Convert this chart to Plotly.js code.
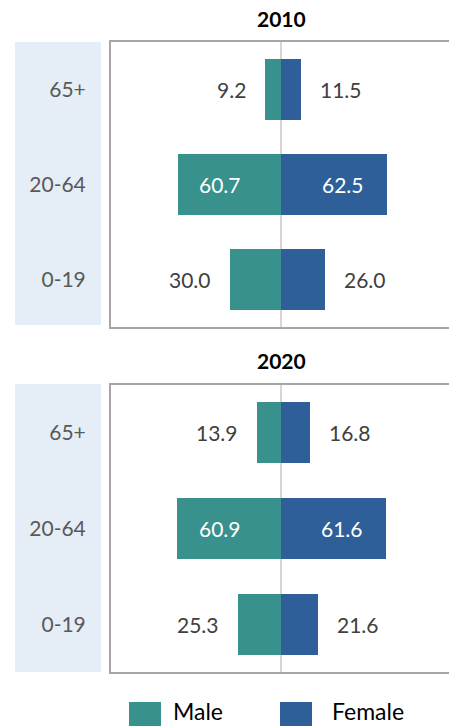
<!DOCTYPE html>
<html><head><meta charset="utf-8">
<script src="https://cdn.plot.ly/plotly-3.0.1.min.js"></script>
<style>html,body{margin:0;padding:0;overflow:hidden;background:#fff;}#chart{width:453px;height:726px;}</style>
</head><body><div id="chart"></div>
<script>
const categories = ["0-19", "20-64", "65+"];
const male2010 = [30.0, 60.7, 9.2];
const female2010 = [26.0, 62.5, 11.5];
const male2020 = [25.3, 60.9, 13.9];
const female2020 = [21.6, 61.6, 16.8];
const years = ["2010", "2020"];
const seriesNames = ["Male", "Female"];

const MALE_C = "#38918c", FEMALE_C = "#2e5f98";
const FONT = "Lato, 'Open Sans', sans-serif";
const H = 726, PL = 111, PW = 340;
const py = v => 1 - v / H;
const px = v => (v - PL) / PW;

function barTrace(vals, sign, color, name, ax) {
  return {
    type: "bar", orientation: "h", name: name,
    y: categories, x: vals.map(v => sign * v),
    marker: {color: color, line: {width: 0}},
    width: 0.64, xaxis: "x" + ax, yaxis: "y" + ax,
    hoverinfo: "skip", showlegend: false
  };
}
const traces = [
  barTrace(male2010, -1, MALE_C, seriesNames[0], ""),
  barTrace(female2010, 1, FEMALE_C, seriesNames[1], ""),
  barTrace(male2020, -1, MALE_C, seriesNames[0], "2"),
  barTrace(female2020, 1, FEMALE_C, seriesNames[1], "2")
];

const annotations = [];
function labels(vals, sign, ax) {
  vals.forEach((v, i) => {
    const inside = v > 40;
    annotations.push({
      xref: ax.x, yref: ax.y,
      x: inside ? sign * v / 2 : sign * v,
      y: categories[i], yanchor: "middle",
      text: v.toFixed(1), showarrow: false,
      xanchor: inside ? "center" : (sign < 0 ? "right" : "left"),
      xshift: inside ? sign * 9 : sign * 17,
      font: {family: FONT, size: 21, color: inside ? "#ffffff" : "#404040"}
    });
  });
}
labels(male2010, -1, {x: "x", y: "y"});
labels(female2010, 1, {x: "x", y: "y"});
labels(male2020, -1, {x: "x2", y: "y2"});
labels(female2020, 1, {x: "x2", y: "y2"});

// year titles
annotations.push({xref: "paper", yref: "paper", x: 0.5, y: py(18), yanchor: "middle", text: "<b>" + years[0] + "</b>", showarrow: false, font: {family: FONT, size: 21, color: "#000"}});
annotations.push({xref: "paper", yref: "paper", x: 0.5, y: py(360), yanchor: "middle", text: "<b>" + years[1] + "</b>", showarrow: false, font: {family: FONT, size: 21, color: "#000"}});
// legend text
annotations.push({xref: "paper", yref: "paper", x: px(172), y: 0, xanchor: "left", yanchor: "bottom", borderpad: 0, text: seriesNames[0], showarrow: false, font: {family: FONT, size: 23, color: "#000"}});
annotations.push({xref: "paper", yref: "paper", x: px(331), y: 0, xanchor: "left", yanchor: "bottom", borderpad: 0, text: seriesNames[1], showarrow: false, font: {family: FONT, size: 23, color: "#000"}});

const shapes = [
  {type: "rect", xref: "paper", yref: "paper", x0: px(15), x1: px(101), y0: py(325), y1: py(42), fillcolor: "#e5edf7", line: {width: 0}, layer: "below"},
  {type: "rect", xref: "paper", yref: "paper", x0: px(15), x1: px(101), y0: py(672), y1: py(384), fillcolor: "#e5edf7", line: {width: 0}, layer: "below"},
  {type: "rect", xref: "paper", yref: "paper", x0: px(129), x1: px(161), y0: py(730), y1: py(702), fillcolor: MALE_C, line: {width: 0}},
  {type: "rect", xref: "paper", yref: "paper", x0: px(280), x1: px(312), y0: py(730), y1: py(702), fillcolor: FEMALE_C, line: {width: 0}}
];

const xax = {
  range: [-100, 100], showticklabels: false, showgrid: false, ticks: "",
  zeroline: true, zerolinecolor: "#d6d6d6", zerolinewidth: 2,
  showline: true, mirror: true, linecolor: "#a6a6a6", linewidth: 2, fixedrange: true
};
const yax = {
  type: "category", categoryorder: "array", categoryarray: categories,
  range: [-0.5, 2.5], showgrid: false, zeroline: false,
  showline: true, mirror: true, linecolor: "#a6a6a6", linewidth: 2,
  ticks: "outside", ticklen: 19, tickcolor: "rgba(0,0,0,0)",
  tickfont: {family: FONT, size: 21, color: "#595959"}, fixedrange: true
};

const layout = {
  width: 453, height: H,
  margin: {l: PL, r: 2, t: 0, b: 0},
  paper_bgcolor: "#fff", plot_bgcolor: "#fff",
  barmode: "relative", bargap: 0,
  showlegend: false,
  xaxis: Object.assign({}, xax, {anchor: "y"}),
  yaxis: Object.assign({}, yax, {domain: [py(327), py(42)], anchor: "x"}),
  xaxis2: Object.assign({}, xax, {anchor: "y2"}),
  yaxis2: Object.assign({}, yax, {domain: [py(672), py(385)], anchor: "x2"}),
  annotations: annotations,
  shapes: shapes
};

Plotly.newPlot("chart", traces, layout, {displayModeBar: false, staticPlot: true});
</script>
</body></html>
